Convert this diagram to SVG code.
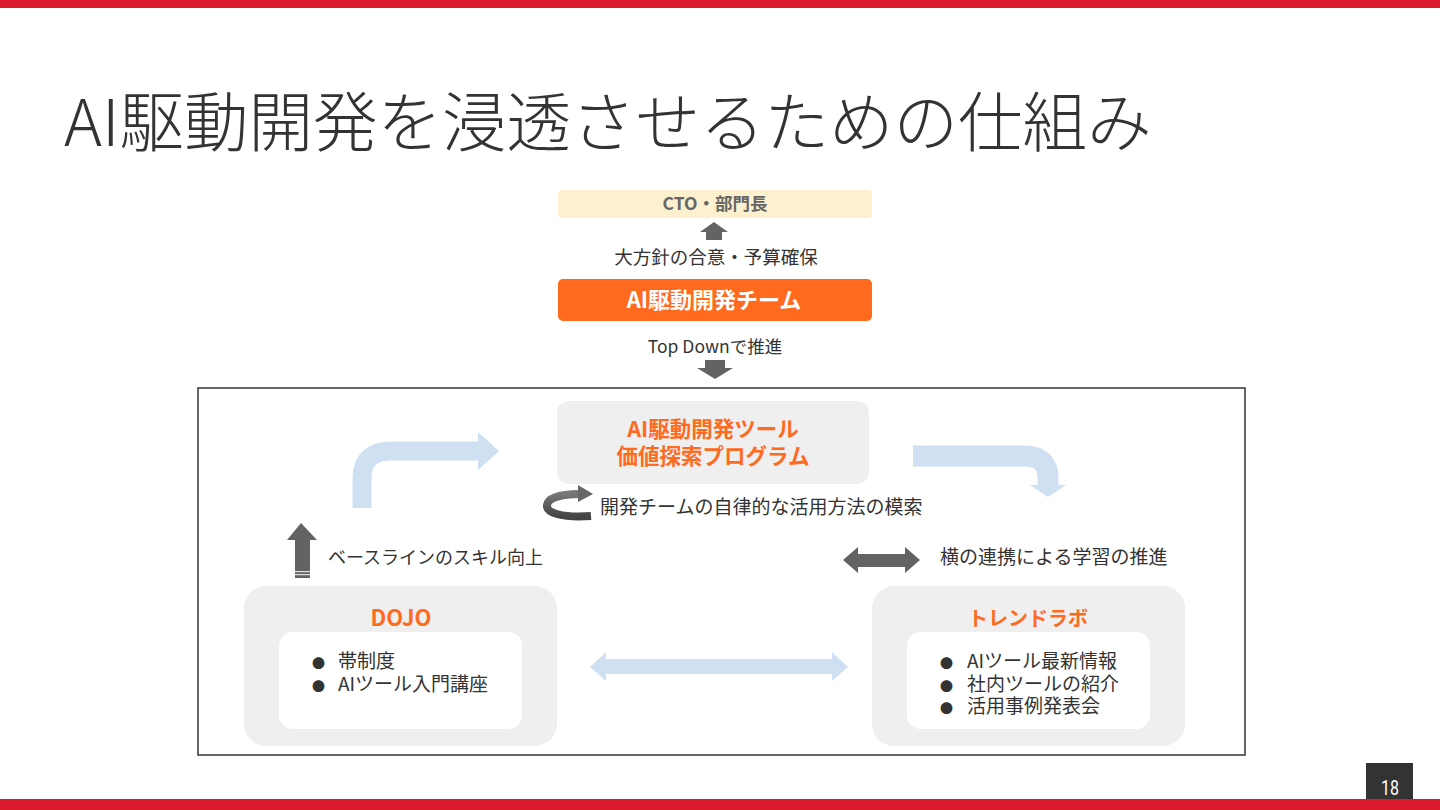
<svg xmlns="http://www.w3.org/2000/svg" width="1440" height="810" viewBox="0 0 1440 810">
<defs>
<style>
.t{font-family:"Noto Sans CJK JP","Noto Sans",sans-serif;fill:#333;}
.lbl{font-weight:400;}
.org{fill:#ff6a1f;font-weight:700;}
.box{fill:#efefef;}
.inner{fill:#fff;}
.lb{fill:#cfe0f3;}
.lbs{fill:none;stroke:#cfe0f3;}
.dk{fill:#636363;}
</style>
<linearGradient id="curvg" x1="0" y1="0" x2="0" y2="1">
<stop offset="0" stop-color="#777"/><stop offset="1" stop-color="#444"/>
</linearGradient>
</defs>
<rect x="0" y="0" width="1440" height="810" fill="#fff"/>
<rect x="0" y="0" width="1440" height="8" fill="#da1a2a"/>
<rect x="0" y="799" width="1440" height="11" fill="#da1a2a"/>
<text class="t" x="64" y="146" font-size="64.5" font-weight="300" fill="#333">AI駆動開発を浸透させるための仕組み</text>

<rect x="198" y="388" width="1047" height="367" fill="#fff" stroke="#333" stroke-width="1.5"/>

<g id="cto">
<rect x="558" y="190" width="314" height="28" rx="4" fill="#fcf0cf"/>
<text class="t" x="715" y="210" font-size="17.5" font-weight="700" text-anchor="middle" style="fill:#666">CTO・部門長</text>
</g>
<g id="team">
<rect x="558" y="279" width="314" height="42" rx="5" fill="#ff6a1f"/>
<text class="t" x="714" y="308" font-size="22" font-weight="700" text-anchor="middle" style="fill:#fff">AI駆動開発チーム</text>
</g>
<g id="program">
<rect x="557" y="401" width="312" height="83" rx="12" class="box"/>
<text class="t org" x="713" y="437" font-size="21.5" text-anchor="middle">AI駆動開発ツール</text>
<text class="t org" x="713" y="464" font-size="21.5" text-anchor="middle">価値探索プログラム</text>
</g>
<g id="dojo">
<rect x="244" y="586" width="313" height="160" rx="22" class="box"/>
<rect x="279" y="632" width="243" height="97" rx="14" class="inner"/>
<text class="t org" x="401" y="626" font-size="22" text-anchor="middle">DOJO</text>
<text class="t" x="312" y="668" font-size="13">●</text>
<text class="t" x="338" y="668" font-size="19">帯制度</text>
<text class="t" x="312" y="691" font-size="13">●</text>
<text class="t" x="338" y="691" font-size="19">AIツール入門講座</text>
</g>
<g id="trendlab">
<rect x="872" y="586" width="313" height="160" rx="22" class="box"/>
<rect x="907" y="632" width="243" height="97" rx="14" class="inner"/>
<text class="t org" x="1028" y="626" font-size="20" text-anchor="middle">トレンドラボ</text>
<text class="t" x="940" y="668" font-size="13">●</text>
<text class="t" x="967" y="668" font-size="19">AIツール最新情報</text>
<text class="t" x="940" y="691" font-size="13">●</text>
<text class="t" x="967" y="691" font-size="19">社内ツールの紹介</text>
<text class="t" x="940" y="713" font-size="13">●</text>
<text class="t" x="967" y="713" font-size="19">活用事例発表会</text>
</g>

<g id="connectors">
<polygon class="dk" points="714,222 728,232 722,232 722,240 706,240 706,232 700,232"/>
<text class="t lbl" x="716" y="264" text-anchor="middle" font-size="18.5">大方針の合意・予算確保</text>
<text class="t lbl" x="715" y="353" font-size="17.5" text-anchor="middle">Top Downで推進</text>
<polygon class="dk" points="705,360 725,360 725,368 733,368 715,379 697,368 705,368"/>

<path class="lbs" stroke-width="19" d="M362,508 L362,478 Q362,451 392,451 L480,451"/>
<polygon class="lb" points="478,432 499,451 478,470"/>

<path class="lbs" stroke-width="21" d="M913,456 L1024,456 Q1048,456 1048,478 L1048,486"/>
<polygon class="lb" points="1030,485 1066,485 1048,497"/>

<path fill="none" stroke="url(#curvg)" stroke-width="8" d="M591,516 C562,518 546,513 547,505 C548,498 560,494 580,494"/>
<polygon fill="#666" points="578,485 593,494 578,502"/>
<text class="t lbl" x="600" y="514" font-size="19">開発チームの自律的な活用方法の模索</text>

<polygon class="dk" points="301,523 317,540 310,540 310,578 295,578 295,540 287,540"/>
<rect x="295" y="571" width="15" height="1.2" fill="#ddd"/>
<rect x="295" y="574" width="15" height="1.2" fill="#ddd"/>
<text class="t lbl" x="328" y="564" font-size="18">ベースラインのスキル向上</text>

<polygon class="dk" points="843,560 858,547 858,554 905,554 905,547 920,560 905,573 905,567 858,567 858,573"/>
<text class="t lbl" x="940" y="564" font-size="19">横の連携による学習の推進</text>

<polygon class="lb" points="590,667 606,652 606,659 832,659 832,652 848,667 832,681 832,674 606,674 606,681"/>
</g>

<rect x="1366" y="763" width="47" height="36" fill="#333"/>
<text x="1390" y="795" font-family="Roboto,sans-serif" font-size="20" fill="#fff" text-anchor="middle" transform="translate(1390 0) scale(0.8 1) translate(-1390 0)">18</text>
</svg>
